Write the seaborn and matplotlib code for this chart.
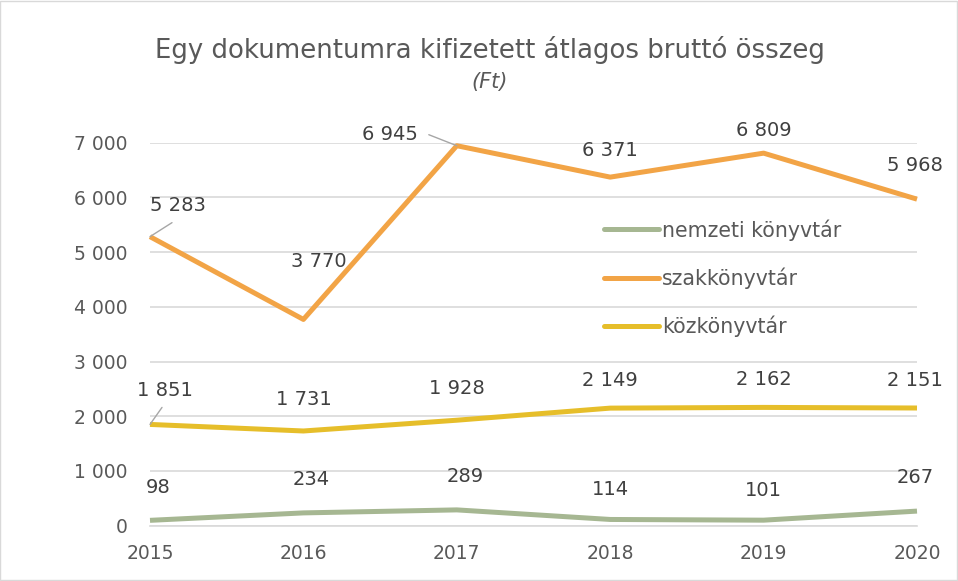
import matplotlib
matplotlib.use("Agg")
import matplotlib.pyplot as plt
import seaborn as sns
import pandas as pd
from matplotlib.patches import Rectangle

years = [2015, 2016, 2017, 2018, 2019, 2020]
series_names = ["nemzeti könyvtár", "szakkönyvtár", "közkönyvtár"]
nemzeti = [98, 234, 289, 114, 101, 267]
szak = [5283, 3770, 6945, 6371, 6809, 5968]
kozk = [1851, 1731, 1928, 2149, 2162, 2151]
y_ticks = [0, 1000, 2000, 3000, 4000, 5000, 6000, 7000]
title = "Egy dokumentumra kifizetett átlagos bruttó összeg"
subtitle = "(Ft)"

colors = ["#A6B792", "#F2A446", "#E6BE2A"]

df = pd.DataFrame({
    "year": years * 3,
    "value": nemzeti + szak + kozk,
    "series": [series_names[0]] * 6 + [series_names[1]] * 6 + [series_names[2]] * 6,
})

def fmt(v):
    return f"{v:,}".replace(",", " ")

sns.set_theme(style="white")
plt.rcParams["font.family"] = ["DejaVu Sans"]

fig = plt.figure(figsize=(9.58, 5.81), dpi=100)
ax = fig.add_axes([150/958, 55.3/581, (917-150)/958, (525.7-142.7)/581])

sns.lineplot(data=df, x="year", y="value", hue="series", hue_order=series_names,
             palette=colors, linewidth=3.6, ax=ax, legend=True, clip_on=False,
             solid_capstyle="butt")

ax.set_xlim(2015, 2020)
ax.set_ylim(0, 7000)
ax.set_yticks(y_ticks)
ax.set_yticklabels([fmt(t) for t in y_ticks])
ax.set_xticks(years)
ax.set_xticklabels([str(y) for y in years])
ax.yaxis.grid(True, color="#D9D9D9", linewidth=1.2)
ax.set_axisbelow(True)
for s in ["left", "right", "top"]:
    ax.spines[s].set_visible(False)
ax.spines["bottom"].set_color("#D9D9D9")
ax.spines["bottom"].set_linewidth(1.2)
ax.tick_params(axis="both", length=0, labelsize=13.5, colors="#595959")
ax.tick_params(axis="y", pad=16)
ax.tick_params(axis="x", pad=13)
ax.set_xlabel("")
ax.set_ylabel("")

leg = ax.legend(loc="upper left", bbox_to_anchor=(0.581, 0.822), frameon=False,
                fontsize=14.8, handlelength=2.7, handletextpad=0.15,
                labelspacing=1.3, borderaxespad=0)
for t in leg.get_texts():
    t.set_color("#595959")
for h in leg.get_lines():
    h.set_linewidth(3.6)
    h.set_solid_capstyle("round")

# data label offsets in pixels (dx, dy) and leader-line offsets
offs = {
    0: [(8, 33), (8, 33), (8, 33), (0, 30), (0, 30), (-2, 34)],
    1: [(28, 31), (15, 58), (-67, 11), (0, 27), (0, 23), (-2, 34)],
    2: [(15, 34), (0, 31), (0, 32), (0, 28), (0, 28), (-2, 28)],
}
leaders = {(1, 0): (22, 14), (1, 2): (-28, 11), (2, 0): (12, 17)}
vals = [nemzeti, szak, kozk]
for si, vs in enumerate(vals):
    for i, (x, v) in enumerate(zip(years, vs)):
        dx, dy = offs[si][i]
        ax.annotate(fmt(v), (x, v), xytext=(dx, dy), textcoords="offset pixels",
                    ha="center", va="center", fontsize=14, color="#404040",
                    annotation_clip=False)
        if (si, i) in leaders:
            lx, ly = leaders[(si, i)]
            ax.annotate("", (x, v), xytext=(lx, ly), textcoords="offset pixels",
                        arrowprops=dict(arrowstyle="-", color="#A6A6A6", lw=1.0,
                                        shrinkA=0, shrinkB=0),
                        annotation_clip=False)

fig.text(490/958, 1 - 50/581, title, ha="center", va="center", fontsize=18.7, color="#595959")
fig.text(490/958, 1 - 82/581, subtitle, ha="center", va="center", fontsize=15,
         color="#595959", style="italic")

fig.patches.append(Rectangle((0.0005, 0.001), 0.998, 0.997, transform=fig.transFigure,
                             fill=False, edgecolor="#D9D9D9", linewidth=1.0))

fig.savefig("out.png", dpi=100)
